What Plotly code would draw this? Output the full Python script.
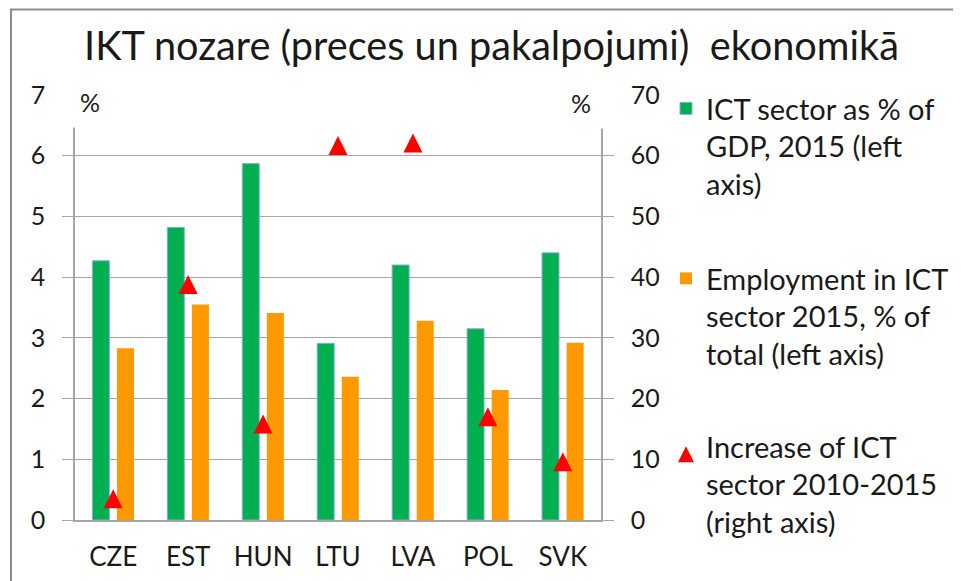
import plotly.graph_objects as go

# ---- data ----
countries = ["CZE", "EST", "HUN", "LTU", "LVA", "POL", "SVK"]
ict_gdp = [4.27, 4.82, 5.87, 2.91, 4.20, 3.15, 4.40]          # left axis, %
ict_employment = [2.83, 3.55, 3.41, 2.36, 3.28, 2.14, 2.92]   # left axis, %
ict_increase = [3.5, 38.8, 15.8, 61.7, 62.1, 17.0, 9.6]       # right axis, %
left_ticks = [0, 1, 2, 3, 4, 5, 6, 7]
right_ticks = [0, 10, 20, 30, 40, 50, 60, 70]

name_gdp = "ICT sector as % of<br>GDP, 2015 (left<br>axis)"
name_emp = "Employment in ICT<br>sector 2015, % of<br>total (left axis)"
name_inc = "Increase of ICT<br>sector 2010-2015<br>(right axis)"

# ---- geometry (pixels) ----
W, H = 961, 581
OFF = 8                      # page body margin: figure is drawn 8 px right / down
PLOT_L, PLOT_R = 75, 601     # plot area in screen pixels
PLOT_T, PLOT_B = 95, 520
PW, PH = PLOT_R - PLOT_L, PLOT_B - PLOT_T
L, T = PLOT_L - OFF, PLOT_T - OFF
R, B = W - L - PW, H - T - PH


def px_x(p):
    return (p - PLOT_L) / PW


def px_y(p):
    return (PLOT_B - p) / PH


FONT = "Lato"
GRID = "#A6A6A6"
TXT = "#1a1a1a"

# triangle marker ("arrow-up" has its tip at the data point); shift its axis so the
# triangle is centred on the value
TRI = 19
y3_off = (TRI / 2) / PH * (right_ticks[-1] - right_ticks[0])

fig = go.Figure()
fig.add_trace(go.Bar(
    x=countries, y=ict_gdp, name=name_gdp, legend="legend",
    marker=dict(color="#00B050", line=dict(color="#8EA9DB", width=1)),
))
fig.add_trace(go.Bar(
    x=countries, y=ict_employment, name=name_emp, legend="legend2",
    marker=dict(color="#FF9900", line=dict(width=0)),
))
fig.add_trace(go.Scatter(
    x=countries, y=ict_increase, name=name_inc, legend="legend3",
    mode="markers", yaxis="y3",
    marker=dict(symbol="arrow-up", size=TRI, color="#FF0000", line=dict(width=0)),
))
# invisible companion so the right-hand axis is drawn with its own scale
fig.add_trace(go.Scatter(x=countries, y=ict_increase, yaxis="y2", mode="none",
                         showlegend=False, hoverinfo="skip"))


def legend_at(top):
    return dict(
        xref="container", yref="container",
        x=658 / W, xanchor="left", y=1 - top / H, yanchor="top",
        font=dict(family=FONT, size=29, color=TXT),
        valign="top", itemwidth=30, bgcolor="rgba(0,0,0,0)",
    )


fig.update_layout(
    width=W, height=H,
    margin=dict(l=L, r=R, t=T, b=B, autoexpand=False),
    paper_bgcolor="white", plot_bgcolor="white",
    font=dict(family=FONT, color=TXT),
    barmode="group", bargap=0.343, bargroupgap=0.31,
    title=dict(
        text="IKT nozare (preces un pakalpojumi)  ekonomikā",
        x=483.5 / W, xanchor="center", y=1 - 38 / H, yanchor="middle",
        font=dict(family=FONT, size=39.7, color=TXT),
    ),
    xaxis=dict(
        type="category", showgrid=False, ticks="", showline=True,
        linecolor=GRID, linewidth=1.5,
        tickfont=dict(family=FONT, size=26, color=TXT), ticklabelstandoff=13,
    ),
    yaxis=dict(
        range=[left_ticks[0], left_ticks[-1]], tickvals=left_ticks,
        showgrid=True, gridcolor=GRID, gridwidth=1.2, zeroline=False,
        showline=True, linecolor=GRID, linewidth=1.5,
        ticks="outside", ticklen=11, tickcolor=GRID, tickwidth=1.2,
        tickfont=dict(family=FONT, size=25, color=TXT), ticklabelstandoff=12,
    ),
    yaxis2=dict(
        range=[right_ticks[0], right_ticks[-1]], tickvals=right_ticks,
        overlaying="y", side="right", showgrid=False, zeroline=False,
        showline=True, linecolor=GRID, linewidth=1.5,
        ticks="outside", ticklen=11, tickcolor=GRID, tickwidth=1.2,
        tickfont=dict(family=FONT, size=25, color=TXT), ticklabelstandoff=12,
    ),
    yaxis3=dict(
        range=[right_ticks[0] - y3_off, right_ticks[-1] - y3_off],
        overlaying="y", visible=False,
    ),
    legend=legend_at(75),
    legend2=legend_at(245),
    legend3=legend_at(413),
    showlegend=True,
)

shapes = [
    # chart frame (only top and left edges fall inside the picture)
    dict(type="rect", xref="paper", yref="paper",
         x0=px_x(11), x1=px_x(985), y0=px_y(600), y1=px_y(9.5),
         line=dict(color="#8C8C8C", width=2), fillcolor="rgba(0,0,0,0)", layer="below"),
    # white label boxes over the top corners
    dict(type="rect", xref="paper", yref="paper",
         x0=px_x(61), x1=px_x(141), y0=px_y(127.5), y1=px_y(84),
         line=dict(width=0), fillcolor="white", layer="above"),
    dict(type="rect", xref="paper", yref="paper",
         x0=px_x(529), x1=px_x(615), y0=px_y(128.5), y1=px_y(84),
         line=dict(width=0), fillcolor="white", layer="above"),
]
fig.update_layout(shapes=shapes)

fig.add_annotation(text="%", xref="paper", yref="paper", x=px_x(89.5), y=px_y(102),
                   xanchor="center", yanchor="middle", showarrow=False,
                   font=dict(family=FONT, size=25, color=TXT))
fig.add_annotation(text="%", xref="paper", yref="paper", x=px_x(580.5), y=px_y(103),
                   xanchor="center", yanchor="middle", showarrow=False,
                   font=dict(family=FONT, size=25, color=TXT))

fig.write_html("out.html")
